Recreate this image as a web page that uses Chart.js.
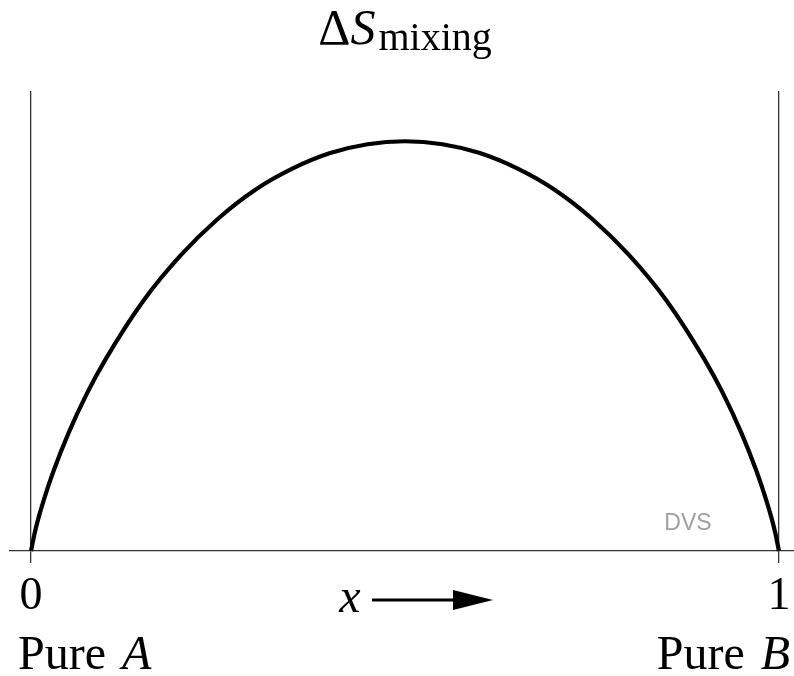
<!DOCTYPE html>
<html>
<head>
<meta charset="utf-8">
<script src="https://cdn.jsdelivr.net/npm/chart.js@4.4.1/dist/chart.umd.min.js"></script>
<style>
  html, body { margin: 0; padding: 0; background: #fff; }
  #wrap { width: 794px; height: 676px; position: relative; }
</style>
</head>
<body>
<div id="wrap"><canvas id="chart"></canvas></div>
<script>
// mole fraction of B
const xValues = [0, 0.005, 0.01, 0.02, 0.03, 0.05, 0.075, 0.1, 0.15, 0.2, 0.25, 0.3, 0.35, 0.4, 0.45, 0.5,
    0.55, 0.6, 0.65, 0.7, 0.75, 0.8, 0.85, 0.9, 0.925, 0.95, 0.97, 0.98, 0.99, 0.995, 1]
// height of the mixing entropy curve at those points
const entropyValues = [0, 0.031, 0.056, 0.098, 0.135, 0.199, 0.267, 0.325, 0.423, 0.500, 0.562, 0.611, 0.647, 0.673, 0.688, 0.693,
    0.688, 0.673, 0.647, 0.611, 0.562, 0.500, 0.423, 0.325, 0.267, 0.199, 0.135, 0.098, 0.056, 0.031, 0]
const tickValues = [0, 1]
const tickLabels = ['0', '1']
const endLabels = ['Pure A', 'Pure B']

const serif = '"Liberation Serif", "DejaVu Serif", serif'

const points = xValues.map((x, i) => ({ x: x, y: entropyValues[i] }))

// title, arrow, pure labels and watermark
const decorations = {
    id: 'decorations',
    afterDraw(chart) {
        const ctx = chart.ctx
        const xs = chart.scales.x
        ctx.save()
        ctx.fillStyle = '#000'
        ctx.textBaseline = 'alphabetic'

        // title: Delta S_mixing
        const big = '50px ' + serif
        const bigIt = 'italic 50px ' + serif
        const sub = '40px ' + serif
        ctx.font = big
        const wD = ctx.measureText('\u0394').width
        ctx.font = bigIt
        const wS = ctx.measureText('S').width
        ctx.font = sub
        const wM = ctx.measureText('mixing').width
        let tx = xs.getPixelForValue(0.5) - (wD + wS + 3 + wM) / 2
        ctx.textAlign = 'left'
        ctx.font = big
        ctx.fillText('\u0394', tx, 44)
        tx += wD
        ctx.font = bigIt
        ctx.fillText('S', tx, 44)
        tx += wS + 3
        ctx.font = sub
        ctx.fillText('mixing', tx, 50)

        // x with arrow
        ctx.font = 'italic 48px ' + serif
        ctx.textAlign = 'center'
        ctx.fillText('x', 350, 612)
        ctx.strokeStyle = '#000'
        ctx.lineWidth = 3
        ctx.beginPath()
        ctx.moveTo(372, 600)
        ctx.lineTo(456, 600)
        ctx.stroke()
        ctx.beginPath()
        ctx.moveTo(453, 590)
        ctx.lineTo(493, 600)
        ctx.lineTo(453, 610)
        ctx.closePath()
        ctx.fill()

        // Pure A / Pure B
        const drawPure = (word, letter, x, align) => {
            ctx.font = '48px ' + serif
            const w1 = ctx.measureText(word).width + 16
            ctx.font = 'italic 48px ' + serif
            const w2 = ctx.measureText(letter).width
            const left = align === 'left' ? x : x - w1 - w2
            ctx.textAlign = 'left'
            ctx.font = '48px ' + serif
            ctx.fillText(word, left, 669)
            ctx.font = 'italic 48px ' + serif
            ctx.fillText(letter, left + w1, 669)
        }
        const a = endLabels[0].split(' ')
        const b = endLabels[1].split(' ')
        drawPure(a[0], a[1], 18, 'left')
        drawPure(b[0], b[1], 790, 'right')

        // watermark
        ctx.font = '23px "Liberation Sans", Arial, sans-serif'
        ctx.fillStyle = '#a0a0a0'
        ctx.textAlign = 'center'
        ctx.textBaseline = 'middle'
        ctx.fillText('DVS', 688, 524)
        ctx.restore()
    }
}

new Chart(document.getElementById('chart'), {
    type: 'scatter',
    data: {
        datasets: [{
            data: points,
            showLine: true,
            borderColor: '#000',
            borderWidth: 4.2,
            pointRadius: 0,
            cubicInterpolationMode: 'monotone',
            clip: false
        }]
    },
    options: {
        responsive: true,
        maintainAspectRatio: false,
        animation: false,
        layout: { padding: { top: 91, left: 10, right: 0, bottom: 0 } },
        plugins: {
            legend: { display: false },
            tooltip: { enabled: false }
        },
        scales: {
            x: {
                type: 'linear',
                min: -0.0281,
                max: 1.0201,
                afterBuildTicks(scale) {
                    scale.ticks = tickValues.map(v => ({ value: v }))
                },
                afterFit(scale) {
                    scale.height = 125
                    scale.paddingLeft = 0
                    scale.paddingRight = 0
                },
                grid: {
                    color: '#333',
                    lineWidth: 1.3,
                    tickLength: 12,
                    drawOnChartArea: true
                },
                border: { display: true, color: '#333', width: 1.3 },
                ticks: {
                    autoSkip: false,
                    maxRotation: 0,
                    padding: 6,
                    color: '#000',
                    font: { family: serif, size: 46 },
                    callback: (value) => {
                        const i = tickValues.indexOf(value)
                        return i >= 0 ? tickLabels[i] : null
                    }
                }
            },
            y: {
                display: false,
                min: 0,
                max: 0.778
            }
        }
    },
    plugins: [decorations]
})
</script>
</body>
</html>
